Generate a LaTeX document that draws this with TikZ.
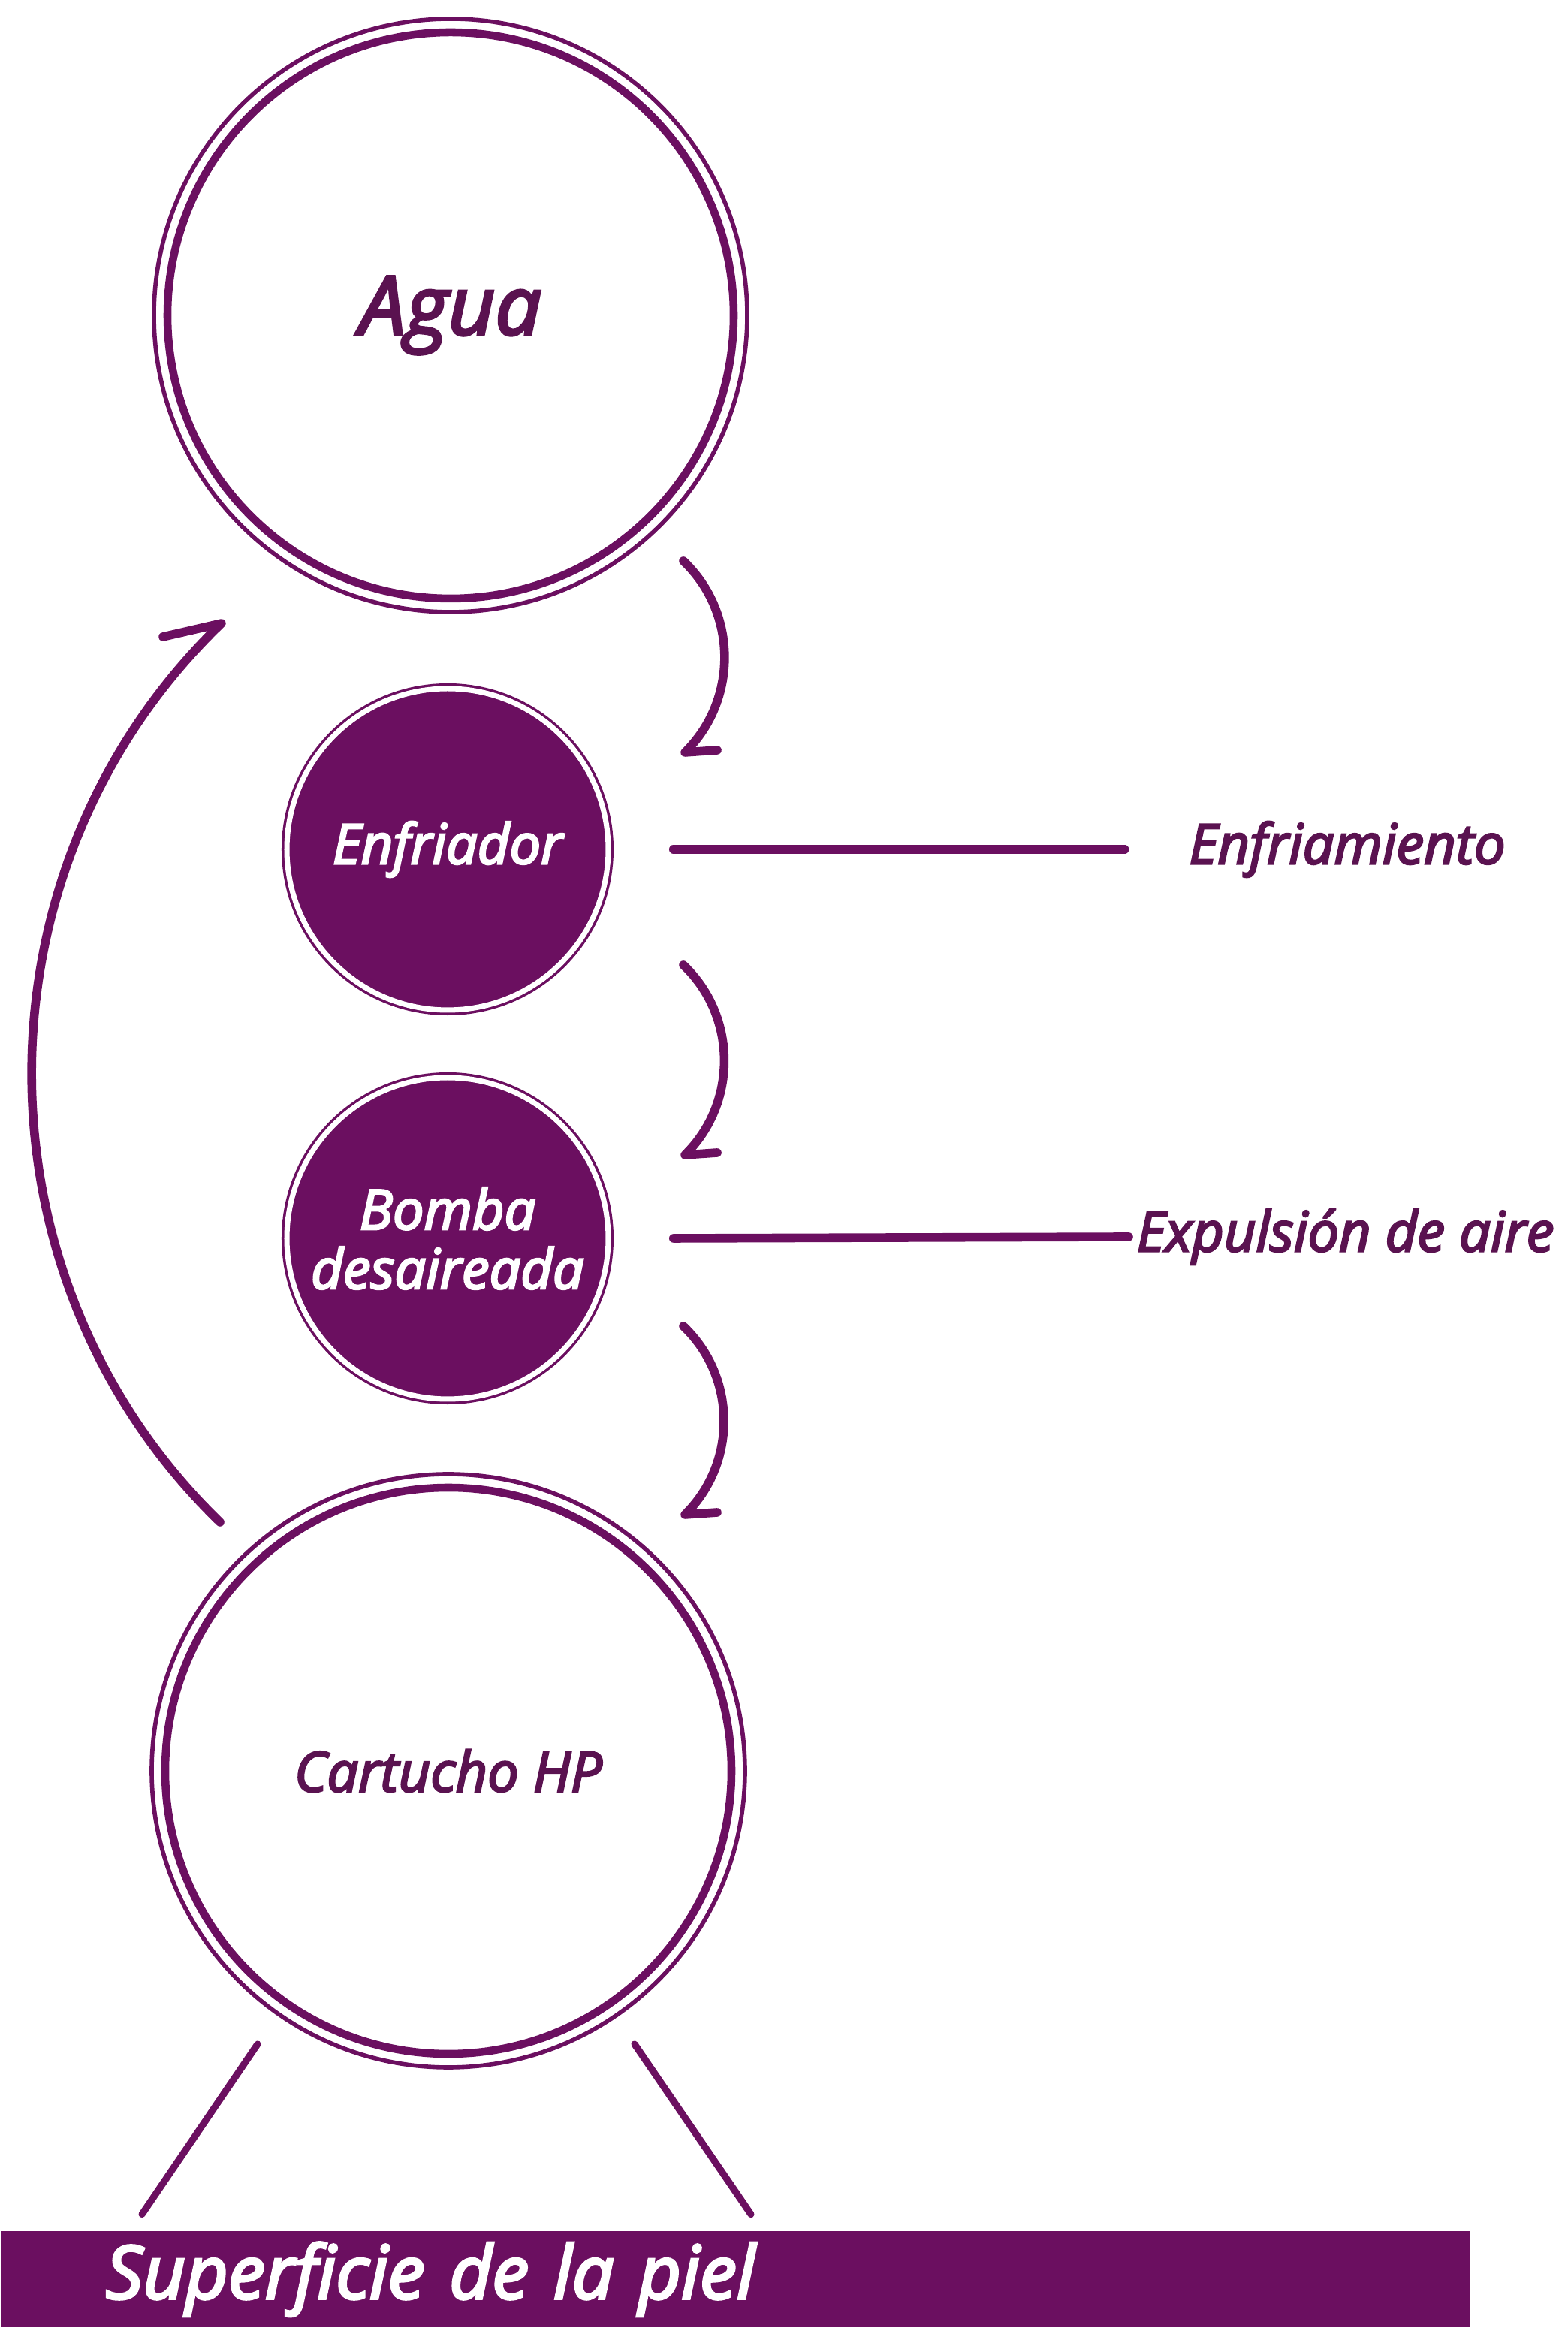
\documentclass[tikz,border=0pt]{standalone}
\usepackage{fontspec}
\setmainfont{Open Sans}[ItalicFeatures={FakeBold=3.5}]
\usetikzlibrary{positioning}
\definecolor{morado}{HTML}{6B0F60}
\definecolor{moradotxt}{HTML}{5A1250}

\begin{document}
\begin{tikzpicture}[
	anillo/.style={circle,draw=morado,line width=3pt,inner sep=0pt,minimum size=7.54cm,text=moradotxt},
	disco/.style={circle,fill=morado,draw=morado,double=white,double distance=2pt,line width=1pt,inner sep=0pt,minimum size=4.28cm,text=white,align=center,font=\fontsize{21}{22.5}\selectfont\itshape},
	flecha/.style={draw=morado,line width=3.3pt,line cap=round,line join=round},
	etiqueta/.style={inner sep=0pt,text=moradotxt,font=\fontsize{21}{24}\selectfont\itshape}]
	\useasboundingbox (0,0) rectangle (20.88,31);

	\node[anillo,font=\fontsize{31}{34}\selectfont\itshape] (agua) at (6.00,26.80) {Agua};
	\draw[morado,line width=1.6pt] (agua.center) circle[radius=3.95];
	\node[disco] (enfriador) at (5.96,19.69) {Enfriador};
	\node[disco] (bomba) at (5.96,14.51) {Bomba\\desaireada};
	\node[anillo,font=\fontsize{21}{24}\selectfont\itshape] (cartucho) at (5.97,7.42) {Cartucho HP};
	\draw[morado,line width=1.6pt] (cartucho.center) circle[radius=3.95];

	\node[etiqueta] (enfriamiento) at (17.94,19.69) {Enfriamiento};
	\node[etiqueta,anchor=west] (expulsion) at (15.13,14.53) {Expulsión de aire};

	\node[anchor=south west,fill=morado,text=white,minimum height=1.28cm,inner ysep=0pt,inner xsep=1.4cm,text width=16.77cm,align=left,font=\fontsize{28}{30}\selectfont\itshape] (piel) at (0,0) {Superficie de la piel};

	\coordinate (s1) at ([shift={(3.10,-3.27)}]agua.center);
	\coordinate (t1) at ([shift={(3.16,1.29)}]enfriador.center);
	\coordinate (s2) at ([shift={(3.14,-1.54)}]enfriador.center);
	\coordinate (t2) at ([shift={(3.16,1.11)}]bomba.center);
	\coordinate (s3) at ([shift={(3.14,-1.17)}]bomba.center);
	\coordinate (t3) at ([shift={(3.15,3.41)}]cartucho.center);
	\coordinate (s4) at ([shift={(-3.04,3.31)}]cartucho.center);
	\coordinate (t4) at ([shift={(-3.05,-4.10)}]agua.center);

	\draw[flecha] (s1) to[bend left=46] (t1) -- ++(0.43,0.03);
	\draw[flecha] (s2) to[bend left=46] (t2) -- ++(0.43,0.03);
	\draw[flecha] (s3) to[bend left=46] (t3) -- ++(0.43,0.03);
	\draw[flecha] (s4) to[bend left=46] (t4) -- ++(-0.78,-0.18);

	\draw[flecha] ([xshift=0.85cm]enfriador.east) -- ([xshift=-0.85cm]enfriamiento.west);
	\draw[flecha] ([xshift=0.85cm]bomba.east) -- ([xshift=-0.10cm]expulsion.west);

	\draw[flecha,line width=2.6pt] ([shift={(-2.54,-3.64)}]cartucho.center) -- ([shift={(1.89,0.22)}]piel.north west);
	\draw[flecha,line width=2.6pt] ([shift={(2.48,-3.64)}]cartucho.center) -- ([shift={(10.00,0.22)}]piel.north west);
\end{tikzpicture}
\end{document}
